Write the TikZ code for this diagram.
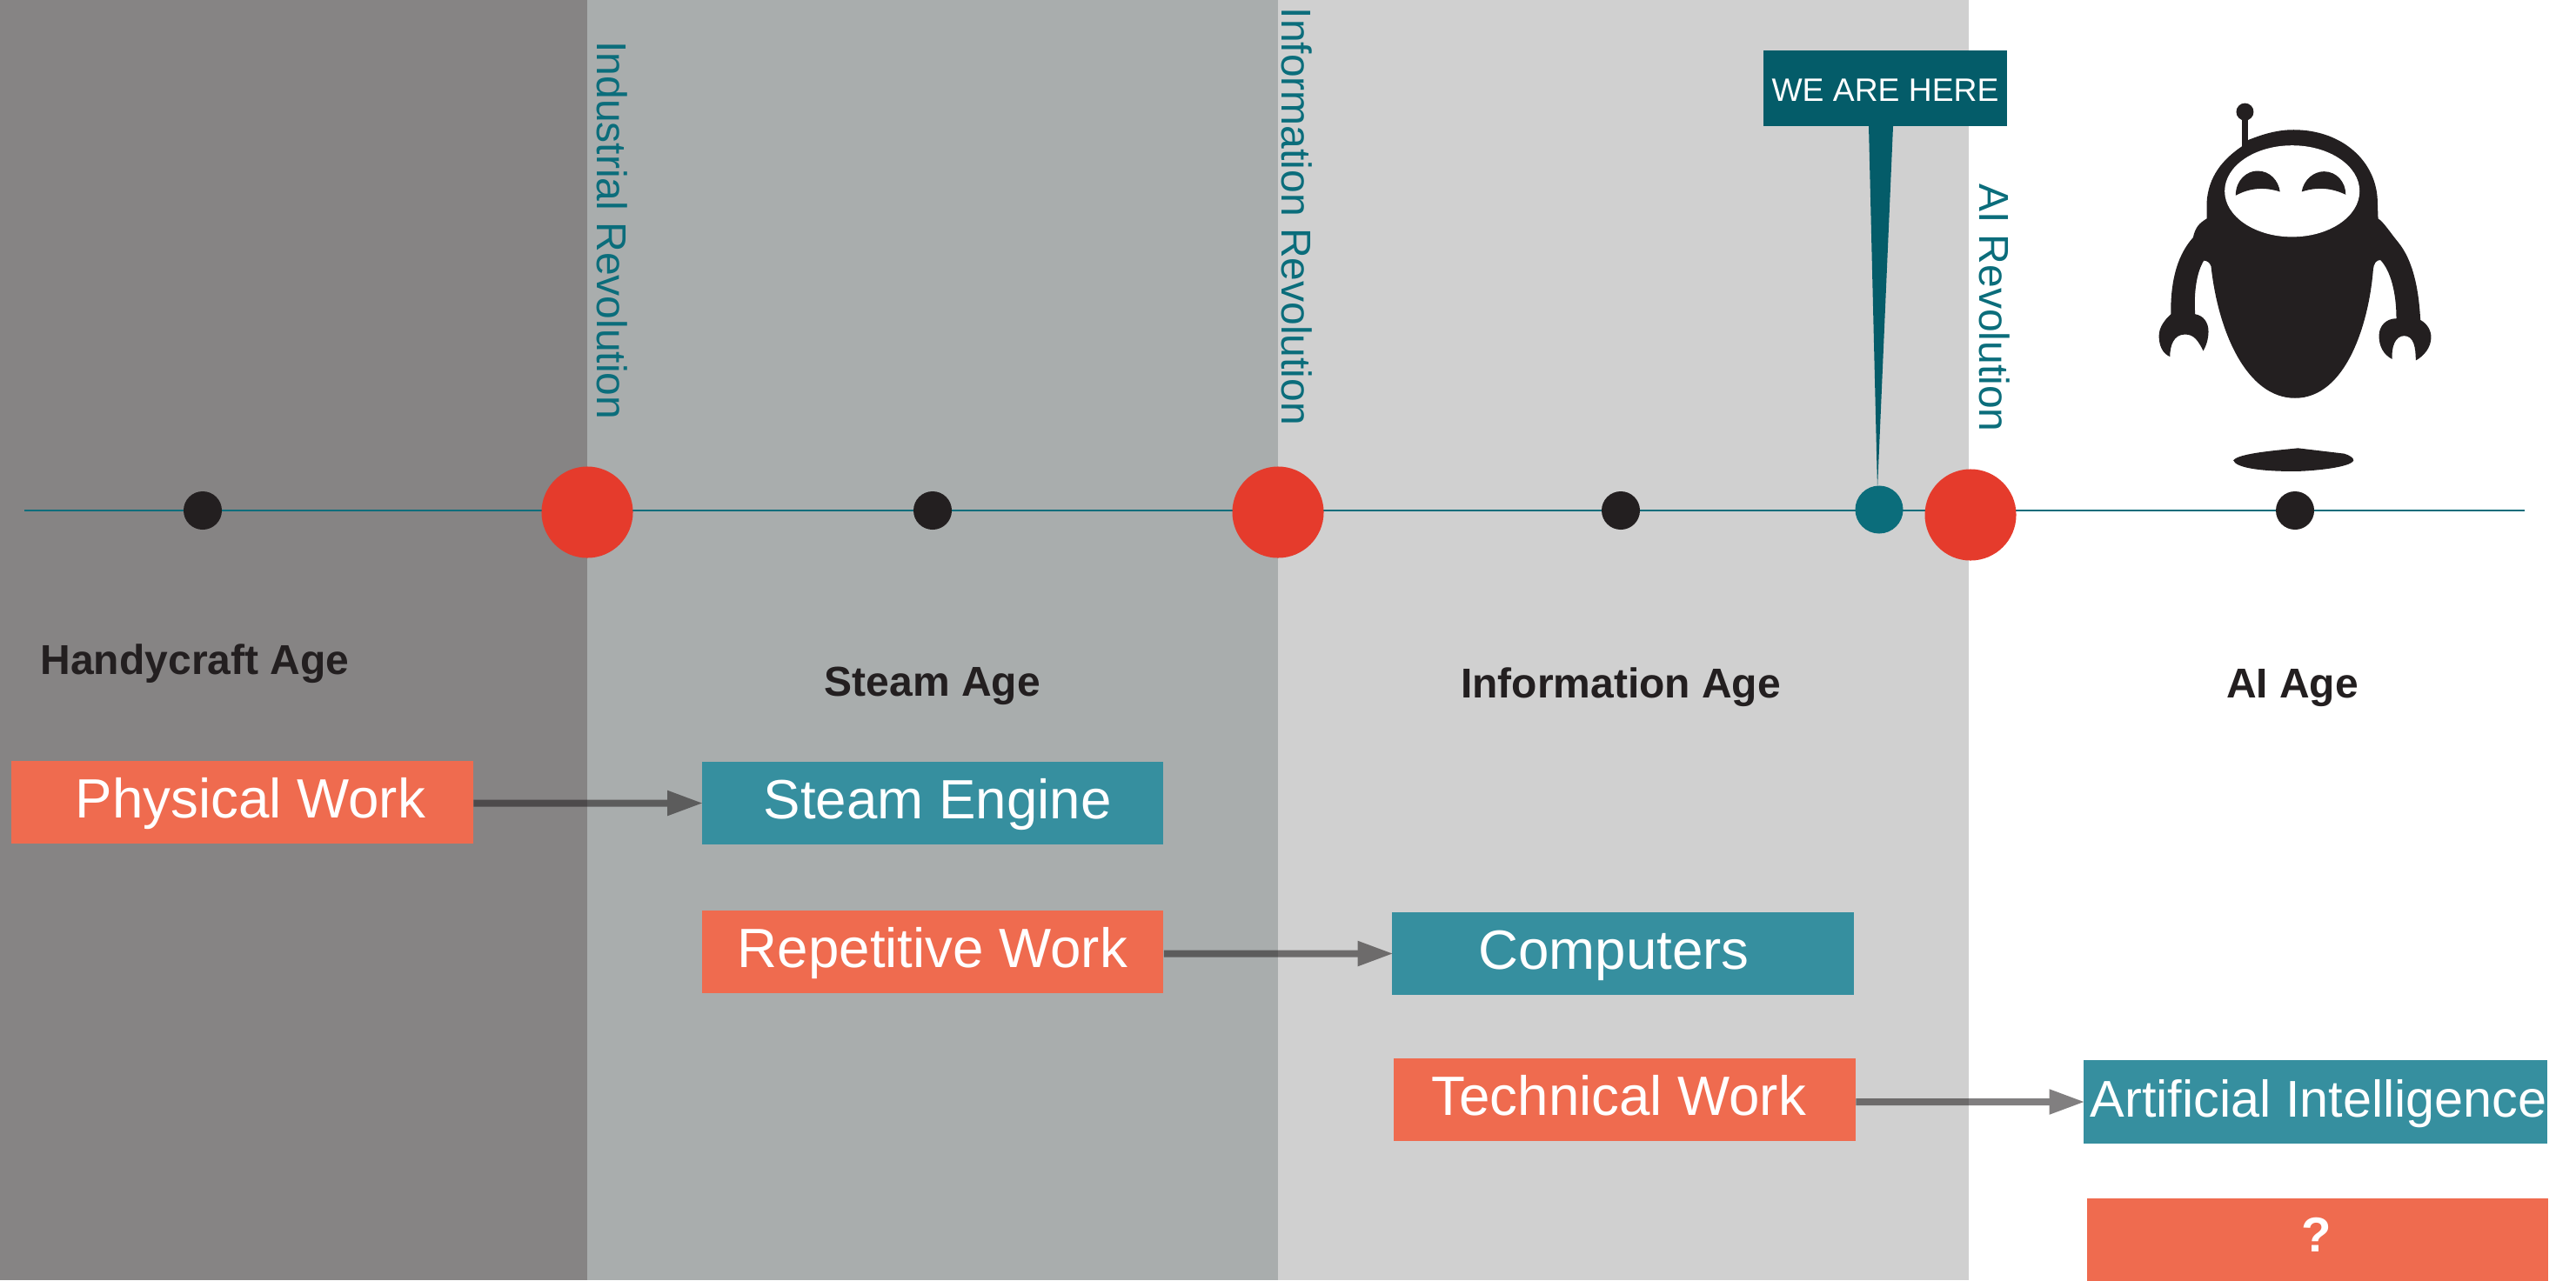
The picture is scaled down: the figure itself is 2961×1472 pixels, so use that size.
\documentclass[tikz,border=0pt]{standalone}
\usepackage{fontspec}
\setmainfont{Liberation Sans}
\usetikzlibrary{arrows.meta}
\definecolor{bandA}{HTML}{868484}
\definecolor{bandB}{HTML}{A9ADAD}
\definecolor{bandC}{HTML}{D0D0D0}
\definecolor{inkK}{HTML}{231F20}
\definecolor{redC}{HTML}{E53B2C}
\definecolor{orangeC}{HTML}{EF6B4F}
\definecolor{tealBox}{HTML}{368F9F}
\definecolor{tealDark}{HTML}{045C69}
\definecolor{tealLine}{HTML}{0B6D7B}
\tikzset{
  bandfill/.style={fill=#1,draw=none},
  blackdot/.style={circle,fill=inkK,draw=none,minimum size=0.44cm,inner sep=0},
  reddot/.style={circle,fill=redC,draw=none,minimum size=1.05cm,inner sep=0},
  tealdot/.style={circle,fill=tealLine,draw=none,minimum size=0.55cm,inner sep=0},
  timeline/.style={draw=tealLine,line width=0.7pt},
  revlabel/.style={rotate=-90,text=tealLine,inner sep=0,font=\fontsize{13.65pt}{16pt}\selectfont,text height=10pt,text depth=0pt},
  agelabel/.style={text=inkK,inner sep=0,font=\bfseries\fontsize{13.65pt}{16pt}\selectfont},
  workbox/.style={fill=#1,draw=none,inner sep=0,text=white,minimum width=5.3cm,minimum height=0.95cm,
    font=\fontsize{18.1pt}{20pt}\selectfont,text height=13pt,text depth=3pt},
  flowgroup/.style={transparency group,opacity=0.57},
  flow/.style={draw=inkK,line width=8*0.2845pt,shorten >=-0.02cm,
    -{Triangle[length=0.41cm,width=0.27cm,fill=inkK]}},
  robotink/.style={fill=inkK,draw=none},
}
\begin{document}
\begin{tikzpicture}[x=0.01cm,y=-0.01cm]
\useasboundingbox (0,0) rectangle (2961,1472);
\fill[white] (0,0) rectangle (2961,1472);
% bands
\fill[bandfill=bandA] (0,0) rectangle (675,1472);
\fill[bandfill=bandB] (675,0) rectangle (1469,1472);
\fill[bandfill=bandC] (1469,0) rectangle (2263,1472);
% timeline
\coordinate (ls) at (28,587);
\coordinate (le) at (2902,587);
\draw[timeline] (ls) -- (le);
\node[blackdot] (d1) at (233,587) {};
\node[blackdot] (d2) at (1072,587) {};
\node[blackdot] (d3) at (1863,587) {};
\node[blackdot] (d4) at (2638,587) {};
\node[reddot] (r1) at (675,589) {};
\node[reddot] (r2) at (1469,589) {};
\node[reddot] (r3) at (2265,592) {};
\node[tealdot] (here) at (2160,586) {};
% callout
\fill[tealDark] (2148,145) -- (2176,145) -- (2158,562) -- cycle;
\node[fill=tealDark,inner sep=0,text=white,minimum width=2.8cm,minimum height=0.87cm,
  font=\fontsize{10.6pt}{12pt}\selectfont,text height=8.8pt,text depth=0pt] (callout) at (2167,101.5) {WE ARE HERE};
% revolution labels
\node[revlabel] (l1) at (704,265) {Industrial Revolution};
\node[revlabel] (l2) at (1491,249) {Information Revolution};
\node[revlabel] (l3) at (2293,354) {AI Revolution};
% age labels
\node[agelabel] (a1) at (224,763) {Handycraft Age};
\node[agelabel] (a2) at (1072,789) {Steam Age};
\node[agelabel] (a3) at (1863,790) {Information Age};
\node[agelabel] (a4) at (2635,791) {AI Age};
% boxes
\node[workbox=orangeC] (pw) at (278.5,922.5) {\hspace*{5.4pt}Physical Work};
\node[workbox=tealBox] (se) at (1072,923.5) {\hspace*{3.2pt}Steam Engine};
\node[workbox=orangeC] (rw) at (1072,1094.5) {Repetitive Work};
\node[workbox=tealBox] (co) at (1865.5,1096.5) {Computers\hspace*{5.9pt}};
\node[workbox=orangeC] (tw) at (1867.5,1264.5) {Technical Work\hspace*{3.8pt}};
\node[workbox=tealBox,font=\fontsize{16.9pt}{20pt}\selectfont] (ai) at (2661.5,1267) {\hspace*{2.1pt}Artificial Intelligence};
\node[workbox=orangeC,font=\bfseries\fontsize{16pt}{20pt}\selectfont,text depth=5pt] (qq) at (2664,1425) {?\hspace*{1pt}};
% arrows
\begin{scope}[flowgroup]
\draw[flow] (pw.east |- se.west) -- (se.west);
\end{scope}
\begin{scope}[flowgroup]
\draw[flow] (rw.east |- co.west) -- (co.west);
\end{scope}
\begin{scope}[flowgroup]
\draw[flow] (tw.east |- ai.west) -- (ai.west);
\end{scope}
% robot
\begin{scope}[shift={(2440,90)},x=0.003333cm,y=-0.003333cm]
\fill[robotink] (422,116) circle[radius=30];
\fill[robotink] (412,116) rectangle (434,240);
\fill[robotink] (434,213) .. controls (480,195) and (530,178) .. (590,178)
  .. controls (760,178) and (880,290) .. (880,430) -- (882,485)
  .. controls (900,495) and (925,535) .. (950,565)
  .. controls (1000,625) and (1022,720) .. (1028,835)
  .. controls (1055,850) and (1065,875) .. (1065,895)
  .. controls (1065,930) and (1040,960) .. (1012,975)
  .. controls (1012,930) and (1005,890) .. (972,890)
  .. controls (940,890) and (928,930) .. (930,970)
  .. controls (900,955) and (885,925) .. (885,890)
  .. controls (885,855) and (910,830) .. (945,830)
  .. controls (945,740) and (925,665) .. (890,628)
  .. controls (875,628) and (867,640) .. (865,660)
  .. controls (850,850) and (770,1105) .. (595,1105)
  .. controls (430,1105) and (330,880) .. (305,650)
  .. controls (300,635) and (290,630) .. (280,630)
  .. controls (255,670) and (245,740) .. (250,815)
  .. controls (280,820) and (296,845) .. (296,875)
  .. controls (296,900) and (288,925) .. (278,942)
  .. controls (260,905) and (245,885) .. (215,885)
  .. controls (175,885) and (163,925) .. (163,962)
  .. controls (135,950) and (125,920) .. (125,890)
  .. controls (125,860) and (145,835) .. (166,815)
  .. controls (165,720) and (180,620) .. (243,550)
  .. controls (250,515) and (265,500) .. (290,485) -- (290,430)
  .. controls (295,340) and (345,280) .. (412,235) -- cycle;
\fill[white] (585,390) ellipse[x radius=233,y radius=158];
\fill[robotink] (390,405) .. controls (390,350) and (430,320) .. (465,320)
  .. controls (510,320) and (538,355) .. (543,392)
  .. controls (490,375) and (440,378) .. (390,405) -- cycle;
\fill[robotink] (618,392) .. controls (625,350) and (660,322) .. (695,322)
  .. controls (740,322) and (770,360) .. (770,402)
  .. controls (720,378) and (670,375) .. (618,392) -- cycle;
\fill[robotink] (382,1320) .. controls (400,1295) and (540,1285) .. (605,1278)
  -- (765,1297) .. controls (785,1303) and (797,1312) .. (797,1320)
  .. controls (790,1345) and (650,1358) .. (590,1358)
  .. controls (470,1358) and (390,1345) .. (382,1320) -- cycle;
\end{scope}
\end{tikzpicture}
\end{document}
